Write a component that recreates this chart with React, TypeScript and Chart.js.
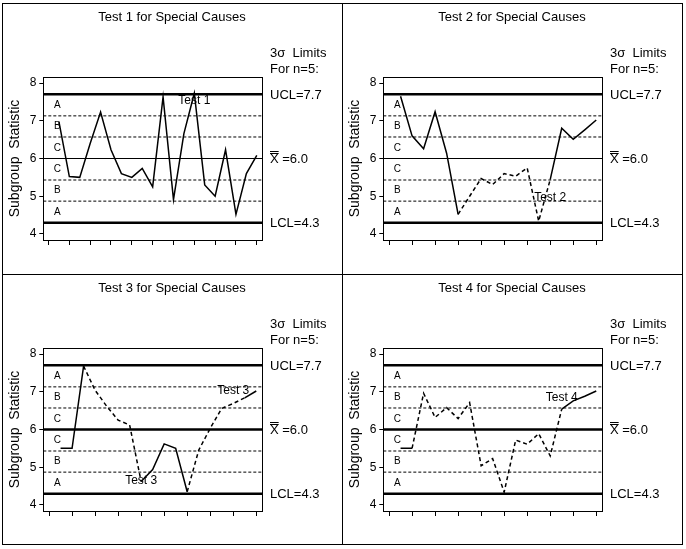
import React, { useEffect, useRef } from "react";
import { Chart, registerables } from "chart.js";

Chart.register(...registerables);

const FAMILY = '"Liberation Sans", Arial, Helvetica, sans-serif';

// ---- data ----
const panelTitles = [
  "Test 1 for Special Causes",
  "Test 2 for Special Causes",
  "Test 3 for Special Causes",
  "Test 4 for Special Causes",
];

const test1Values = [6.98, 5.52, 5.5, 6.4, 7.23, 6.23, 5.6, 5.5, 5.74, 5.25, 7.63, 4.91, 6.66, 7.73, 5.3, 5.0, 6.23, 4.52, 5.6, 6.08];
const test2Values = [7.65, 6.6, 6.26, 7.24, 6.14, 4.52, 5.0, 5.47, 5.31, 5.6, 5.53, 5.75, 4.34, 5.44, 6.8, 6.51, 6.76, 7.02];
const test3Values = [5.5, 5.5, 7.68, 7.04, 6.62, 6.25, 6.12, 4.62, 4.94, 5.62, 5.5, 4.35, 5.45, 6.03, 6.56, 6.69, 6.84, 7.02];
const test4Values = [5.5, 5.5, 6.96, 6.32, 6.58, 6.29, 6.71, 5.04, 5.23, 4.34, 5.72, 5.61, 5.89, 5.3, 6.54, 6.76, 6.88, 7.02];

// index of the first point of each dashed (flagged) segment
const test1Dashed: number[] = [];
const test2Dashed = [5, 6, 7, 8, 9, 10, 11, 12];
const test3Dashed = [2, 3, 4, 5, 6, 11, 12, 13, 14, 15];
const test4Dashed = [1, 2, 3, 4, 5, 6, 7, 8, 9, 10, 11, 12, 13];

// signal labels: [subgroup, value, text]
const test1Labels: [number, number, string][] = [[14, 7.53, "Test 1"]];
const test2Labels: [number, number, string][] = [[14, 4.96, "Test 2"]];
const test3Labels: [number, number, string][] = [[8, 4.64, "Test 3"], [16, 7.03, "Test 3"]];
const test4Labels: [number, number, string][] = [[15, 6.84, "Test 4"]];

const UCL = 7.7;
const CENTER = 6.0;
const LCL = 4.3;
const zoneBoundaries = [7.13, 6.57, 5.43, 4.87];
const zoneLetters = ["A", "B", "C", "C", "B", "A"];
const zoneLetterValues = [7.42, 6.85, 6.28, 5.72, 5.15, 4.58];
const yTicks = [4, 5, 6, 7, 8];
const yRange = [3.84, 8.16];

type Panel = {
  title: string;
  values: number[];
  dashed: number[];
  labels: [number, number, string][];
  centerWidth: number;
  left: number;
  top: number;
};

const panels: Panel[] = [
  { title: panelTitles[0], values: test1Values, dashed: test1Dashed, labels: test1Labels, centerWidth: 1, left: 2, top: 3 },
  { title: panelTitles[1], values: test2Values, dashed: test2Dashed, labels: test2Labels, centerWidth: 1, left: 342, top: 3 },
  { title: panelTitles[2], values: test3Values, dashed: test3Dashed, labels: test3Labels, centerWidth: 2.5, left: 2, top: 274 },
  { title: panelTitles[3], values: test4Values, dashed: test4Dashed, labels: test4Labels, centerWidth: 2.5, left: 342, top: 274 },
];

const CW = 340;
const CH = 271;

function ControlPanel({ p }: { p: Panel }) {
  const ref = useRef<HTMLCanvasElement>(null);
  useEffect(() => {
    if (!ref.current) return;
    const n = p.values.length;
    const xMin = -0.5;
    const xMax = n + 0.5;
    const xTicks: number[] = [];
    for (let t = 0; t <= n; t += 2) xTicks.push(t);
    const pts = p.values.map((v, i) => ({ x: i + 1, y: v }));
    const hline = (v: number) => [
      { x: xMin, y: v },
      { x: xMax, y: v },
    ];
    const dashed = new Set(p.dashed);

    const textPlugin = {
      id: "controlText",
      afterDraw(chart: any) {
        const { ctx, chartArea: a, scales } = chart;
        const ys = scales.y;
        const xs = scales.x;
        ctx.save();
        // box top & right
        ctx.strokeStyle = "#000";
        ctx.lineWidth = 1;
        ctx.beginPath();
        ctx.moveTo(a.left, Math.round(a.top) + 0.5);
        ctx.lineTo(a.right + 1, Math.round(a.top) + 0.5);
        ctx.moveTo(Math.round(a.right) + 0.5, a.top);
        ctx.lineTo(Math.round(a.right) + 0.5, a.bottom);
        ctx.stroke();

        ctx.fillStyle = "#000";
        // title
        ctx.font = `13px ${FAMILY}`;
        ctx.textAlign = "center";
        ctx.textBaseline = "alphabetic";
        ctx.fillText(p.title, chart.width / 2, 18);

        // y title
        ctx.save();
        ctx.translate(13, (a.top + a.bottom) / 2);
        ctx.rotate(-Math.PI / 2);
        ctx.font = `14px ${FAMILY}`;
        ctx.textBaseline = "middle";
        ctx.textAlign = "center";
        ctx.fillText("Subgroup  Statistic", 0, 0);
        ctx.restore();

        // right labels
        const rx = a.right + 8;
        ctx.textAlign = "left";
        ctx.textBaseline = "middle";
        ctx.font = `13px ${FAMILY}`;
        ctx.fillText("3\u03c3  Limits", rx, a.top - 24);
        ctx.fillText("For n=5:", rx, a.top - 8);
        ctx.fillText(`UCL=${UCL.toFixed(1)}`, rx, ys.getPixelForValue(UCL) + 1);
        const cy = ys.getPixelForValue(CENTER) + 1;
        ctx.fillText(`X =${CENTER.toFixed(1)}`, rx, cy);
        const xw = ctx.measureText("X").width;
        ctx.lineWidth = 1;
        ctx.beginPath();
        ctx.moveTo(rx, Math.round(cy - 7) + 0.5);
        ctx.lineTo(rx + xw, Math.round(cy - 7) + 0.5);
        ctx.moveTo(rx, Math.round(cy - 9) + 0.5);
        ctx.lineTo(rx + xw, Math.round(cy - 9) + 0.5);
        ctx.stroke();
        ctx.fillText(`LCL=${LCL.toFixed(1)}`, rx, ys.getPixelForValue(LCL) + 1);

        // zone letters
        ctx.font = `10px ${FAMILY}`;
        ctx.textAlign = "center";
        zoneLetters.forEach((z, i) => {
          ctx.fillText(z, a.left + 14, ys.getPixelForValue(zoneLetterValues[i]));
        });

        // signal labels
        ctx.font = `12px ${FAMILY}`;
        p.labels.forEach(([lx, ly, t]) => {
          ctx.fillText(t, xs.getPixelForValue(lx), ys.getPixelForValue(ly));
        });
        ctx.restore();
      },
    };

    const chart = new Chart(ref.current, {
      type: "line",
      data: {
        datasets: [
          ...zoneBoundaries.map((z) => ({
            data: hline(z),
            borderColor: "#000",
            borderWidth: 1,
            borderDash: [3, 2],
            pointRadius: 0,
          })),
          { data: hline(UCL), borderColor: "#000", borderWidth: 2.5, pointRadius: 0 },
          { data: hline(LCL), borderColor: "#000", borderWidth: 2.5, pointRadius: 0 },
          { data: hline(CENTER), borderColor: "#000", borderWidth: p.centerWidth, pointRadius: 0 },
          {
            data: pts,
            borderColor: "#000",
            borderWidth: 1.5,
            pointRadius: 0,
            segment: {
              borderDash: (c: any) => (dashed.has(c.p0DataIndex) ? [4, 3] : undefined),
            },
          },
        ] as any,
      },
      options: {
        animation: false,
        responsive: false,
        events: [],
        layout: { padding: { left: 0, top: 74, right: 80, bottom: 28 } },
        plugins: {
          legend: { display: false },
          tooltip: { enabled: false },
          title: { display: false },
        },
        scales: {
          x: {
            type: "linear",
            min: xMin,
            max: xMax,
            afterBuildTicks: (s: any) => {
              s.ticks = xTicks.map((v) => ({ value: v }));
            },
            afterFit: (s: any) => {
              s.height = 6;
            },
            grid: { drawOnChartArea: false, drawTicks: true, tickLength: 5, color: "#000" },
            border: { color: "#000", width: 1 },
            ticks: { display: false },
          },
          y: {
            type: "linear",
            min: yRange[0],
            max: yRange[1],
            afterBuildTicks: (s: any) => {
              s.ticks = yTicks.map((v) => ({ value: v }));
            },
            afterFit: (s: any) => {
              s.width = 41.3;
            },
            grid: { drawOnChartArea: false, drawTicks: true, tickLength: 4, color: "#000" },
            border: { color: "#000", width: 1 },
            ticks: { color: "#000", font: { size: 12, family: FAMILY }, padding: 3 },
          },
        },
      } as any,
      plugins: [textPlugin],
    });
    return () => chart.destroy();
  }, [p]);
  return (
    <canvas
      ref={ref}
      width={CW}
      height={CH}
      style={{ position: "absolute", left: p.left, top: p.top, width: CW, height: CH }}
    />
  );
}

const line = (l: number, t: number, w: number, h: number) => (
  <div style={{ position: "absolute", left: l, top: t, width: w, height: h, background: "#000" }} />
);

export default function App() {
  return (
    <div
      style={{
        position: "fixed",
        left: 0,
        top: 0,
        width: 686,
        height: 549,
        background: "#fff",
        overflow: "hidden",
      }}
    >
      {panels.map((p, i) => (
        <ControlPanel key={i} p={p} />
      ))}
      {line(2, 3, 1, 542)}
      {line(342, 3, 1, 542)}
      {line(682, 3, 1, 542)}
      {line(2, 3, 681, 1)}
      {line(2, 274, 681, 1)}
      {line(2, 544, 681, 1)}
    </div>
  );
}
